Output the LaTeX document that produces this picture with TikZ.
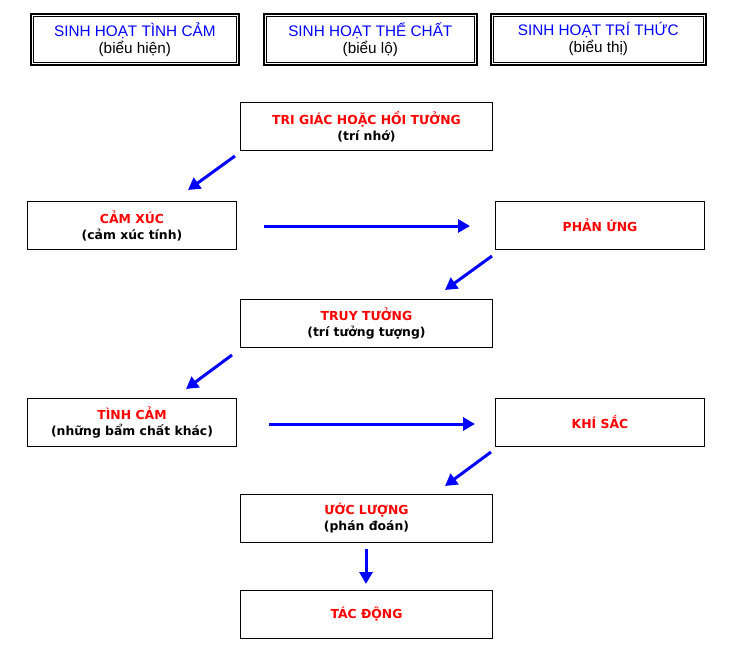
\documentclass[tikz,border=0pt]{standalone}
\usepackage{fontspec}
\setmainfont{DejaVu Sans}
\newfontfamily\arialf{Liberation Sans}
\usetikzlibrary{arrows.meta}
\tikzset{
  headbox/.style={draw=black, line width=1.6pt, minimum width=208pt, minimum height=51pt, anchor=north west, inner sep=0pt, align=center, font=\arialf\fontsize{15.3}{17}\selectfont},
  innerbox/.style={draw=black, line width=0.9pt},
  mainbox/.style={draw=black, line width=1pt, minimum height=48pt, anchor=north west, inner sep=0pt, align=center, font=\bfseries\fontsize{12.4}{16}\selectfont},
  flow/.style={draw={rgb,255:red,0;green,0;blue,255}, line width=3pt, -{Triangle[length=12pt,width=13pt]}},
}
\definecolor{hblue}{RGB}{0,0,255}
\definecolor{hred}{RGB}{255,0,0}
\begin{document}
\begin{tikzpicture}[x=1pt,y=-1pt]
\useasboundingbox (0,0) rectangle (730,650);
% header boxes
\node[headbox, minimum width=208pt] (h1) at (30,13) {\textcolor{hblue}{SINH HOẠT TÌNH CẢM}\\(biểu hiện)};
\node[headbox, minimum width=213pt] (h2) at (263,13) {\textcolor{hblue}{SINH HOẠT THỂ CHẤT}\\(biểu lộ)};
\node[headbox, minimum width=215pt] (h3) at (490,13) {\textcolor{hblue}{SINH HOẠT TRÍ THỨC}\\(biểu thị)};
\foreach \h in {h1,h2,h3}{
  \draw[innerbox] ([xshift=3.5pt,yshift=-3.5pt]\h.north west) rectangle ([xshift=-3.5pt,yshift=3.5pt]\h.south east);
}
% main boxes
\node[mainbox, minimum width=252pt] (tri) at (240,102) {\textcolor{hred}{TRI GIÁC HOẶC HỒI TƯỞNG}\\(trí nhớ)};
\node[mainbox, minimum width=209pt] (camxuc) at (27,201) {\textcolor{hred}{CẢM XÚC}\\(cảm xúc tính)};
\node[mainbox, minimum width=209pt] (phanung) at (495,201) {\textcolor{hred}{PHẢN ỨNG}};
\node[mainbox, minimum width=252pt] (truy) at (240,299) {\textcolor{hred}{TRUY TƯỞNG}\\(trí tưởng tượng)};
\node[mainbox, minimum width=209pt] (tinhcam) at (27,398) {\textcolor{hred}{TÌNH CẢM}\\(những bẩm chất khác)};
\node[mainbox, minimum width=209pt] (khisac) at (495,398) {\textcolor{hred}{KHÍ SẮC}};
\node[mainbox, minimum width=252pt] (uoc) at (240,494) {\textcolor{hred}{ƯỚC LƯỢNG}\\(phán đoán)};
\node[mainbox, minimum width=252pt] (tac) at (240,590) {\textcolor{hred}{TÁC ĐỘNG}};
% arrow end points
\coordinate (a1s) at (235,156); \coordinate (a1e) at (188,190);
\coordinate (a2s) at (264,226); \coordinate (a2e) at (470,226);
\coordinate (a3s) at (492,256); \coordinate (a3e) at (445,290);
\coordinate (a4s) at (232,355); \coordinate (a4e) at (186,389);
\coordinate (a5s) at (269,424); \coordinate (a5e) at (475,424);
\coordinate (a6s) at (491,452); \coordinate (a6e) at (445,486);
\coordinate (a7s) at (366,549); \coordinate (a7e) at (366,584);
\draw[flow] (a1s) -- (a1e);
\draw[flow] (a2s) -- (a2e);
\draw[flow] (a3s) -- (a3e);
\draw[flow] (a4s) -- (a4e);
\draw[flow] (a5s) -- (a5e);
\draw[flow] (a6s) -- (a6e);
\draw[flow] (a7s) -- (a7e);
\end{tikzpicture}
\end{document}
